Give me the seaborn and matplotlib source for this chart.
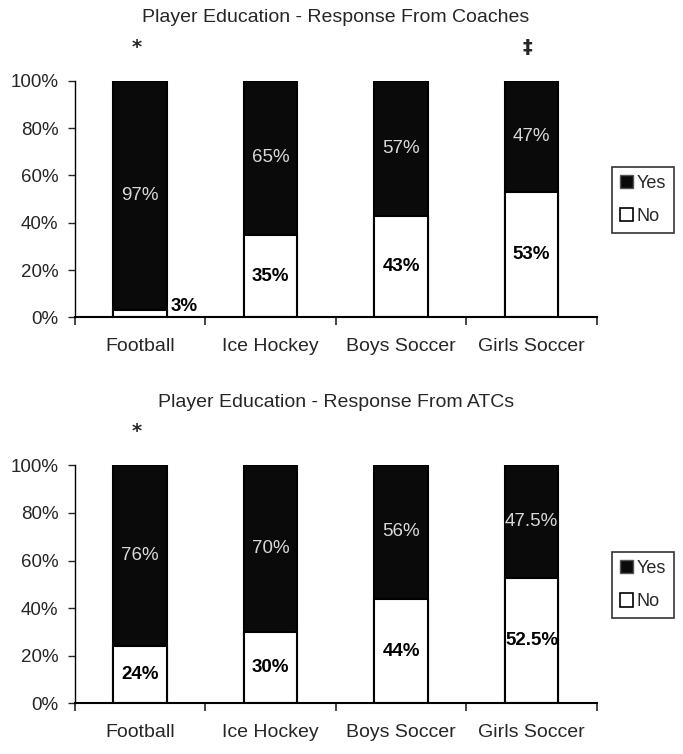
import matplotlib
matplotlib.use('Agg')
import matplotlib.pyplot as plt
import seaborn as sns
import pandas as pd
from matplotlib.patches import Patch

sports = ["Football", "Ice Hockey", "Boys Soccer", "Girls Soccer"]

coach_yes = [97, 65, 57, 47]
coach_no = [3, 35, 43, 53]
coach_yes_lbl = ["97%", "65%", "57%", "47%"]
coach_no_lbl = ["3%", "35%", "43%", "53%"]
coach_marks = ["*", "", "", "\u2021"]

atc_yes = [76, 70, 56, 47.5]
atc_no = [24, 30, 44, 52.5]
atc_yes_lbl = ["76%", "70%", "56%", "47.5%"]
atc_no_lbl = ["24%", "30%", "44%", "52.5%"]
atc_marks = ["*", "", "", ""]

sns.set_style("white")
plt.rcParams['font.family'] = ['Liberation Sans Narrow', 'Liberation Sans', 'DejaVu Sans']

fig = plt.figure(figsize=(6.83, 7.54), dpi=100)
ax_top = fig.add_axes([0.1098, 0.579, 0.764, 0.314])
ax_bot = fig.add_axes([0.1098, 0.067, 0.764, 0.316])


def draw_panel(ax, title, yes, no, yes_lbl, no_lbl, marks):
    df = pd.DataFrame({"sport": sports, "yes": yes, "no": no})
    df["total"] = df["yes"] + df["no"]
    sns.barplot(data=df, x="sport", y="total", color="#0a0a0a", edgecolor="black",
                linewidth=1.5, width=0.41, saturation=1, ax=ax)
    sns.barplot(data=df, x="sport", y="no", color="white", edgecolor="black",
                linewidth=1.5, width=0.41, saturation=1, ax=ax)

    for i in range(len(sports)):
        ax.text(i, no[i] + yes[i] / 2, yes_lbl[i], ha="center", va="center",
                color="#d8d8d8", fontsize=13.5)
        if no[i] < 6:
            ax.text(i + 0.23, no[i] + 1.8, no_lbl[i], ha="left", va="center",
                    color="black", fontsize=13.5, fontweight="bold")
        else:
            ax.text(i, no[i] / 2, no_lbl[i], ha="center", va="center",
                    color="black", fontsize=13.5, fontweight="bold")
        if marks[i]:
            ax.text(i - 0.03, 114, marks[i], ha="center", va="center", fontsize=14,
                    fontweight="bold", family=['DejaVu Sans'], clip_on=False)

    ax.set_title(title, fontsize=14, pad=42)
    ax.set_xlim(-0.5, 3.5)
    ax.set_ylim(0, 100)
    ax.set_yticks(range(0, 101, 20))
    ax.set_yticklabels([f"{v}%" for v in range(0, 101, 20)], fontsize=13.5)
    ax.set_xticks(range(len(sports)))
    ax.set_xticklabels(sports, fontsize=14)
    ax.set_xticks([-0.5, 0.5, 1.5, 2.5, 3.5], minor=True)
    ax.tick_params(axis="x", which="major", length=0, pad=15)
    ax.tick_params(axis="x", which="minor", length=6, width=1.2, direction="out", bottom=True)
    ax.tick_params(axis="y", length=5, width=1, direction="out", left=True, pad=7)
    ax.set_xlabel("")
    ax.set_ylabel("")
    for s in ["top", "right"]:
        ax.spines[s].set_visible(False)
    ax.spines["left"].set_linewidth(1)
    ax.spines["bottom"].set_linewidth(1.5)
    ax.spines["left"].set_color("black")
    ax.spines["bottom"].set_color("black")

    handles = [Patch(facecolor="#0a0a0a", edgecolor="#555555", label="Yes"),
               Patch(facecolor="white", edgecolor="black", linewidth=1.2, label="No")]
    leg = ax.legend(handles=handles, loc="center left", bbox_to_anchor=(1.029, 0.497),
                    frameon=True, fancybox=False, fontsize=13, handlelength=0.7,
                    handleheight=0.75, handletextpad=0.2, borderpad=0.45,
                    borderaxespad=0, labelspacing=0.9)
    leg.get_frame().set_edgecolor("black")
    leg.get_frame().set_linewidth(1.2)


draw_panel(ax_top, "Player Education - Response From Coaches",
           coach_yes, coach_no, coach_yes_lbl, coach_no_lbl, coach_marks)
draw_panel(ax_bot, "Player Education - Response From ATCs",
           atc_yes, atc_no, atc_yes_lbl, atc_no_lbl, atc_marks)

fig.savefig("out.png", dpi=100, facecolor="white")
